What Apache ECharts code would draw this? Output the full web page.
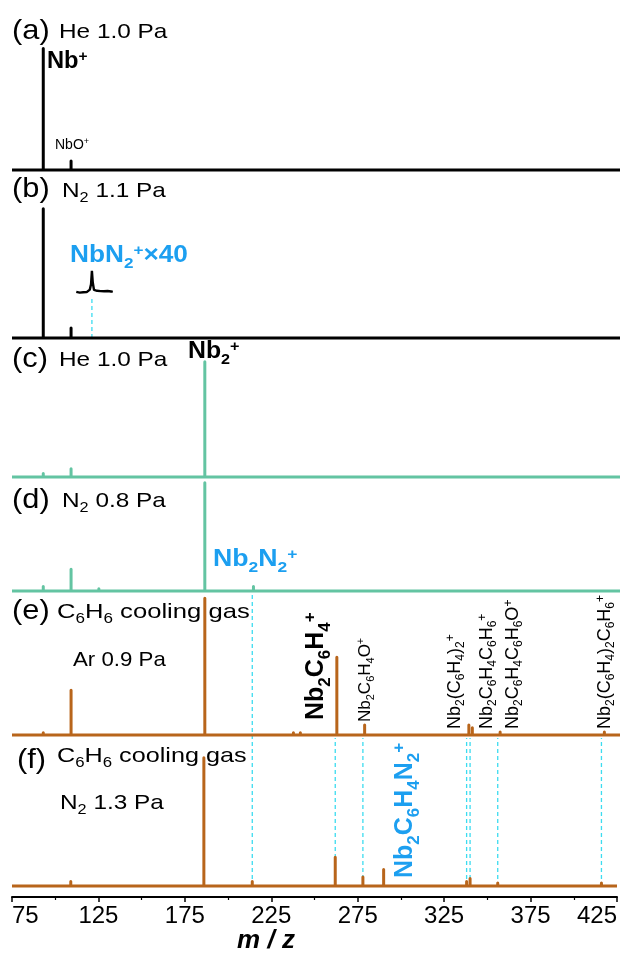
<!DOCTYPE html>
<html>
<head>
<meta charset="utf-8">
<script src="https://cdn.jsdelivr.net/npm/echarts@6/dist/echarts.min.js"></script>
<style>
html, body { margin: 0; padding: 0; background: #fff; }
#chart { width: 620px; height: 957px; }
</style>
</head>
<body>
<div id="chart"></div>
<script>
// ---- Mass spectra, stick peaks: m/z and relative height (% of panel height) ----
// (a) He 1.0 Pa
const mzA = [93, 109, 125];
const intA = [81, 6, 1];
// (b) N2 1.1 Pa
const mzB = [93, 109, 125];
const intB = [77, 6, 0.8];
// (b) NbN2+ region magnified x40
const insetMz = [112, 113, 114, 115, 116, 117, 118, 119, 119.8, 120.5, 121, 121.5, 122.2, 123, 124, 125, 126, 127, 128, 129, 130, 131, 132, 133];
const insetVal = [27.5, 28.2, 27.0, 27.8, 27.2, 28.0, 27.3, 27.9, 28.8, 32, 40, 33, 28.6, 27.6, 28.1, 27.2, 27.9, 27.1, 27.8, 27.3, 28.0, 27.2, 27.7, 27.4];
// (c) He 1.0 Pa
const mzC = [93, 109, 125, 186, 202];
const intC = [2.5, 6, 1, 83, 0.8];
// (d) N2 0.8 Pa
const mzD = [93, 109, 125, 186, 202, 214, 225, 230];
const intD = [4, 19, 2, 95, 1, 4, 1, 1];
// (e) C6H6 cooling gas, Ar 0.9 Pa
const mzE = [93, 109, 125, 186, 214, 237, 241, 262, 278, 338, 340, 356, 416];
const intE = [1.5, 31, 1, 95, 0.8, 1.5, 1.5, 54, 7, 7, 5, 2, 2];
// (f) C6H6 cooling gas, N2 1.3 Pa
const mzF = [109, 186, 214, 237, 262, 278, 290, 300, 338, 340, 356, 416];
const intF = [3, 85, 3, 1, 19, 6, 11, 1, 3, 5, 2, 2];

// dashed guide lines (m/z, upper end in panel-f units)
const dashMzF = [214, 262, 278, 338, 340, 356, 416];
const dashTopF = [194, 98, 98, 98, 98, 98, 98];
const dashMzB = [121];
const dashTopB = [25];

// x axis
const xMin = 75, xMax = 425, xStep = 50;

// ---- styling ----
const FF = '"Liberation Sans", Arial, Helvetica, sans-serif';
const BLACK = '#000000';
const GREEN = '#63c4a2';
const BROWN = '#b8651b';
const CYAN_TXT = '#1c9ff0';
const CYAN_DASH = '#3cdcf0';

// panel geometry: baseline pixel and pixel height of 100 units
const panels = [
  { base: 170, h: 150, color: BLACK, mz: mzA, val: intA },
  { base: 338, h: 168, color: BLACK, mz: mzB, val: intB },
  { base: 477, h: 139, color: GREEN, mz: mzC, val: intC },
  { base: 591, h: 114, color: GREEN, mz: mzD, val: intD },
  { base: 735, h: 144, color: BROWN, mz: mzE, val: intE },
  { base: 886, h: 151, color: BROWN, mz: mzF, val: intF }
];
const AXIS_Y = 897;

function sticks(mz, val) {
  const pts = [[xMin, 0]];
  mz.forEach((m, i) => { pts.push([m, 0], [m, val[i]], [m, 0]); });
  pts.push([xMax, 0]);
  return pts;
}

const grids = [], xAxes = [], yAxes = [], series = [];
panels.forEach((p, i) => {
  const last = i === panels.length - 1;
  const bottomPx = last ? AXIS_Y : p.base;
  const topPx = p.base - p.h;
  grids.push({ left: 12, right: 0, top: topPx, height: bottomPx - topPx });
  const yMin = last ? -(AXIS_Y - p.base) / p.h * 100 : 0;
  yAxes.push({ gridIndex: i, type: 'value', min: yMin, max: 100, show: false });
  xAxes.push({
    gridIndex: i, type: 'value', min: xMin, max: xMax, interval: xStep,
    show: last,
    axisLine: { show: true, onZero: false, lineStyle: { color: '#000', width: 2 } },
    axisTick: { show: true, inside: false, length: 5, lineStyle: { color: '#000', width: 1.5 } },
    minorTick: { show: true, splitNumber: 2, length: 3, lineStyle: { color: '#000', width: 1.2 } },
    splitLine: { show: false },
    axisLabel: {
      show: true, color: '#000', fontSize: 24, fontFamily: FF, margin: 7,
      alignMinLabel: 'left', alignMaxLabel: 'right'
    }
  });
  series.push({
    type: 'line', xAxisIndex: i, yAxisIndex: i,
    data: sticks(p.mz, p.val),
    symbol: 'none', clip: false, z: 5,
    lineStyle: { color: p.color, width: 3, join: 'round' }
  });
});

// magnified NbN2+ trace in panel (b)
series.push({
  type: 'line', xAxisIndex: 1, yAxisIndex: 1,
  data: insetMz.map((m, i) => [m, insetVal[i]]),
  symbol: 'none', clip: false, z: 5,
  lineStyle: { color: BLACK, width: 2.4 }
});

function dashSeries(axisIdx, mz, top) {
  return {
    type: 'custom', xAxisIndex: axisIdx, yAxisIndex: axisIdx, clip: false, z: 2,
    data: mz.map((m, i) => [m, top[i]]),
    encode: { x: 0, y: 1 },
    renderItem: function (params, api) {
      const m = api.value(0), t = api.value(1);
      const p0 = api.coord([m, 0]), p1 = api.coord([m, t]);
      return {
        type: 'line',
        shape: { x1: p0[0], y1: p0[1], x2: p1[0], y2: p1[1] },
        style: { stroke: CYAN_DASH, lineWidth: 1.3, lineDash: [4, 3] }
      };
    }
  };
}
series.push(dashSeries(1, dashMzB, dashTopB));
series.push(dashSeries(5, dashMzF, dashTopF));

// ---- text with sub/superscripts ----
function richSet(size, weight, color) {
  const sub = Math.round(size * 0.66);
  const dSub = Math.round(size * 0.34);
  const dSup = Math.round(size * 0.22);
  const base = { fontFamily: FF, fontWeight: weight, fill: color, verticalAlign: 'middle' };
  return {
    m: Object.assign({}, base, { fontSize: size, lineHeight: Math.round(size * 1.2) }),
    s: Object.assign({}, base, { fontSize: sub, lineHeight: sub, padding: [dSub * 2, 0, 0, 0] }),
    u: Object.assign({}, base, { fontSize: sub, lineHeight: sub, padding: [0, 0, dSup * 2, 0] })
  };
}
function label(x, y, text, size, weight, color, rot, sx) {
  return {
    type: 'text', x: x, y: y, rotation: rot || 0, scaleX: sx || 1, z: 20,
    style: {
      text: text, rich: richSet(size, weight, color),
      fontFamily: FF, fontSize: size, fontWeight: weight, fill: color,
      align: 'left', verticalAlign: 'middle'
    }
  };
}
const R = Math.PI / 2;
const W = 1.16;   // horizontal text width
const graphics = [
  // panel headers
  label(12, 31, '{m|(a)}', 28, 'normal', BLACK, 0, 1.1),
  label(59, 32.5, '{m|He 1.0 Pa}', 21, 'normal', BLACK, 0, W),
  label(12, 189, '{m|(b)}', 28, 'normal', BLACK, 0, 1.1),
  label(62, 191.5, '{m|N}{s|2}{m| 1.1 Pa}', 21, 'normal', BLACK, 0, W),
  label(12, 359, '{m|(c)}', 28, 'normal', BLACK, 0, 1.1),
  label(59, 360, '{m|He 1.0 Pa}', 21, 'normal', BLACK, 0, W),
  label(12, 500, '{m|(d)}', 28, 'normal', BLACK, 0, 1.1),
  label(62, 501.5, '{m|N}{s|2}{m| 0.8 Pa}', 21, 'normal', BLACK, 0, W),
  label(12, 611, '{m|(e)}', 28, 'normal', BLACK, 0, 1.1),
  label(57, 612, '{m|C}{s|6}{m|H}{s|6}{m| cooling gas}', 21, 'normal', BLACK, 0, 1.22),
  label(73, 660, '{m|Ar 0.9 Pa}', 21, 'normal', BLACK, 0, 1.06),
  label(17, 760, '{m|(f)}', 28, 'normal', BLACK, 0, 1.1),
  label(57, 756.5, '{m|C}{s|6}{m|H}{s|6}{m| cooling gas}', 21, 'normal', BLACK, 0, 1.2),
  label(60, 803.5, '{m|N}{s|2}{m| 1.3 Pa}', 21, 'normal', BLACK, 0, W),
  // peak assignments
  label(47, 61.5, '{m|Nb}{u|+}', 23, 'bold', BLACK, 0, 1.03),
  label(55, 145, '{m|NbO}{u|+}', 14, 'normal', BLACK),
  label(70, 255.5, '{m|NbN}{s|2}{u|+}{m|×40}', 23, 'bold', CYAN_TXT, 0, 1.14),
  label(188, 351.5, '{m|Nb}{s|2}{u|+}', 23, 'bold', BLACK, 0, 1.08),
  label(213, 560, '{m|Nb}{s|2}{m|N}{s|2}{u|+}', 23, 'bold', CYAN_TXT, 0, 1.16),
  label(316.5, 720, '{m|Nb}{s|2}{m|C}{s|6}{m|H}{s|4}{u|+}', 25, 'bold', BLACK, R),
  label(365, 722, '{m|Nb}{s|2}{m|C}{s|6}{m|H}{s|4}{m|O}{u|+}', 17, 'normal', BLACK, R),
  label(455, 729, '{m|Nb}{s|2}{m|(C}{s|6}{m|H}{s|4}{m|)}{s|2}{u|+}', 18, 'normal', BLACK, R),
  label(487, 729, '{m|Nb}{s|2}{m|C}{s|6}{m|H}{s|4}{m|C}{s|6}{m|H}{s|6}{u|+}', 18, 'normal', BLACK, R),
  label(513, 729, '{m|Nb}{s|2}{m|C}{s|6}{m|H}{s|4}{m|C}{s|6}{m|H}{s|6}{m|O}{u|+}', 18, 'normal', BLACK, R),
  label(605, 729, '{m|Nb}{s|2}{m|(C}{s|6}{m|H}{s|4}{m|)}{s|2}{m|C}{s|6}{m|H}{s|6}{u|+}', 18, 'normal', BLACK, R),
  label(405.5, 878, '{m|Nb}{s|2}{m|C}{s|6}{m|H}{s|4}{m|N}{s|2}{u|+}', 25, 'bold', CYAN_TXT, R),
  // axis title
  {
    type: 'text', x: 266, y: 941, z: 20,
    style: {
      text: 'm / z', fontFamily: FF, fontSize: 26, fontWeight: 'bold', fontStyle: 'italic',
      fill: BLACK, align: 'center', verticalAlign: 'middle'
    }
  }
];

const chart = echarts.init(document.getElementById('chart'), null, { renderer: 'canvas' });
chart.setOption({
  animation: false,
  backgroundColor: '#ffffff',
  grid: grids,
  xAxis: xAxes,
  yAxis: yAxes,
  series: series,
  graphic: graphics
});
</script>
</body>
</html>
